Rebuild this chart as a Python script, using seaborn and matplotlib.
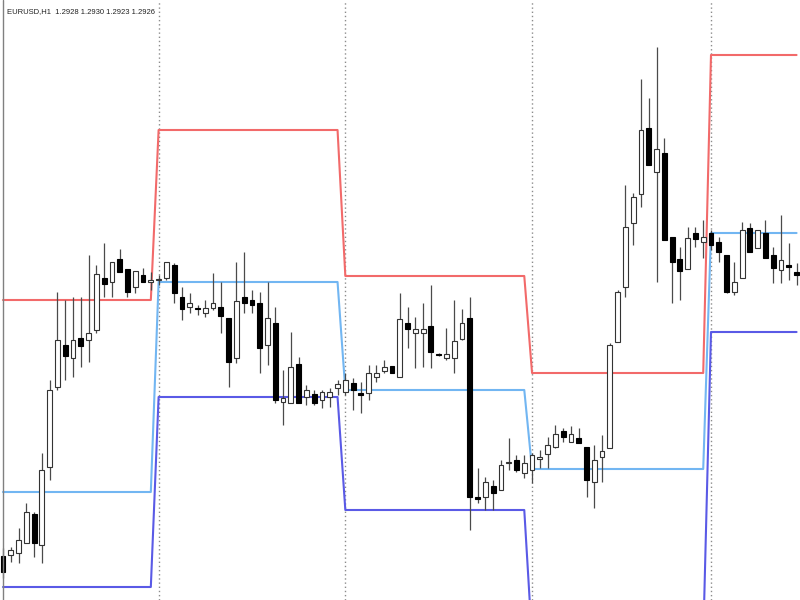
import matplotlib
matplotlib.use("Agg")
import numpy as np
import pandas as pd
import seaborn as sns
import matplotlib.pyplot as plt

# Hourly EURUSD candles (chart units: higher = higher price)
opens = [44, 45, 47, 57, 86, 55, 133, 213, 255, 242, 262, 260, 270, 322, 318, 341, 331, 313, 325, 318,
         320, 322, 335, 303, 293, 292, 287, 292, 293, 282, 242, 303, 300, 297, 255, 277, 198, 197, 236, 203,
         206, 200, 203, 212, 208, 217, 207, 207, 223, 229, 234, 223, 277, 267, 267, 274, 246, 242, 242, 261,
         282, 103, 103, 114, 110, 137, 140, 127, 130, 141, 146, 153, 169, 158, 162, 153, 118, 143, 152, 258,
         313, 377, 406, 472, 428, 447, 363, 341, 331, 367, 358, 367, 358, 345, 308, 322, 372, 352, 367, 345,
         330, 335, 328]
highs = [52, 53, 72, 97, 88, 147, 220, 308, 300, 303, 303, 345, 335, 357, 338, 351, 331, 329, 332, 328,
         325, 338, 337, 313, 307, 295, 300, 327, 318, 282, 338, 348, 310, 308, 318, 293, 230, 268, 243, 215,
         210, 210, 212, 220, 227, 222, 218, 235, 235, 240, 234, 307, 293, 283, 297, 315, 247, 272, 300, 291,
         303, 132, 123, 120, 140, 162, 145, 145, 147, 150, 163, 175, 172, 174, 172, 153, 155, 165, 257, 310,
         415, 407, 521, 502, 553, 462, 363, 353, 373, 373, 380, 370, 363, 345, 338, 378, 377, 370, 380, 353,
         385, 357, 337]
lows = [22, 38, 37, 57, 43, 37, 120, 210, 220, 223, 233, 238, 267, 303, 303, 328, 303, 307, 318, 310,
        315, 320, 297, 280, 287, 285, 283, 290, 267, 213, 237, 287, 287, 227, 235, 197, 175, 197, 197, 195,
        195, 192, 193, 205, 205, 190, 187, 200, 218, 227, 227, 223, 252, 232, 233, 232, 244, 240, 227, 260,
        70, 97, 90, 90, 110, 130, 128, 122, 117, 132, 132, 152, 158, 158, 157, 103, 92, 118, 152, 258,
        303, 355, 393, 435, 318, 360, 297, 300, 331, 353, 342, 350, 338, 307, 305, 322, 348, 352, 342, 317,
        317, 320, 315]
closes = [28, 50, 60, 88, 57, 130, 210, 260, 244, 260, 254, 267, 326, 316, 338, 328, 308, 329, 318, 320,
          321, 338, 307, 291, 297, 291, 292, 297, 284, 238, 299, 297, 295, 252, 282, 200, 202, 233, 197, 210,
          197, 208, 208, 216, 220, 210, 205, 227, 227, 233, 227, 281, 271, 271, 271, 248, 245, 246, 259, 277,
          103, 101, 118, 107, 135, 138, 130, 137, 145, 143, 155, 166, 163, 166, 157, 120, 140, 149, 255, 308,
          373, 403, 470, 435, 451, 360, 338, 329, 362, 361, 363, 355, 348, 308, 318, 370, 348, 370, 342, 332,
          340, 333, 325]

# Daily levels (one value per day) and day lengths in bars
day_start = [0, 20, 44, 68, 91]
day_len = [20, 24, 24, 23, 12]
upper_level = [300, 470, 324, 227, 545]
middle_level = [108, 318, 210, 131, 367]
lower_level = [13, 203, 90, -40, 268]

title_text = "EURUSD,H1  1.2928 1.2930 1.2923 1.2926"

sns.set_style("white")
plt.rcParams['font.family'] = ['Liberation Sans', 'DejaVu Sans']

fig = plt.figure(figsize=(8, 6), dpi=100)
ax = fig.add_axes([0, 0, 1, 1])

n = len(opens)
bars = np.arange(n)

# indicator lines
rows = []
for name, lv in (("upper", upper_level), ("middle", middle_level), ("lower", lower_level)):
    vals = np.repeat(lv, day_len)
    for b, v in zip(bars, vals):
        rows.append({"bar": b, "level": v, "band": name})
lines_df = pd.DataFrame(rows)
sns.lineplot(data=lines_df, x="bar", y="level", hue="band",
             palette={"upper": "#f26a6a", "middle": "#72b6f2", "lower": "#5a5ae6"},
             estimator=None, legend=False, linewidth=1.5, ax=ax, zorder=2)

# day separators
for d in day_start[1:]:
    ax.axvline(d, color="#8c8c8c", linestyle=(0, (1, 2)), linewidth=1.0, zorder=1)

# candles
o = np.array(opens, float)
c = np.array(closes, float)
h = np.array(highs, float)
l = np.array(lows, float)
ax.vlines(bars, l, h, color="#4a4a4a", linewidth=0.9, zorder=3)
up = c >= o
bottom = np.minimum(o, c)
height = np.maximum(np.abs(c - o), 0.9)
ax.bar(bars[up], height[up], bottom=bottom[up], width=0.62, color="white",
       edgecolor="#333333", linewidth=0.8, zorder=4)
ax.bar(bars[~up], height[~up], bottom=bottom[~up], width=0.62, color="black",
       edgecolor="black", linewidth=0.8, zorder=4)

ax.set_xlim(-0.386, 102.44)
ax.set_ylim(0, 600)
ax.axvline(-0.03, color="#808080", linewidth=1.0, zorder=5)
for s in ax.spines.values():
    s.set_visible(False)
ax.set_xticks([])
ax.set_yticks([])
ax.set_xlabel("")
ax.set_ylabel("")

fig.text(7 / 800, 1 - 12 / 600, title_text, fontsize=5.5, color="#222222", va="center", ha="left")

fig.savefig("out.png", dpi=100)
